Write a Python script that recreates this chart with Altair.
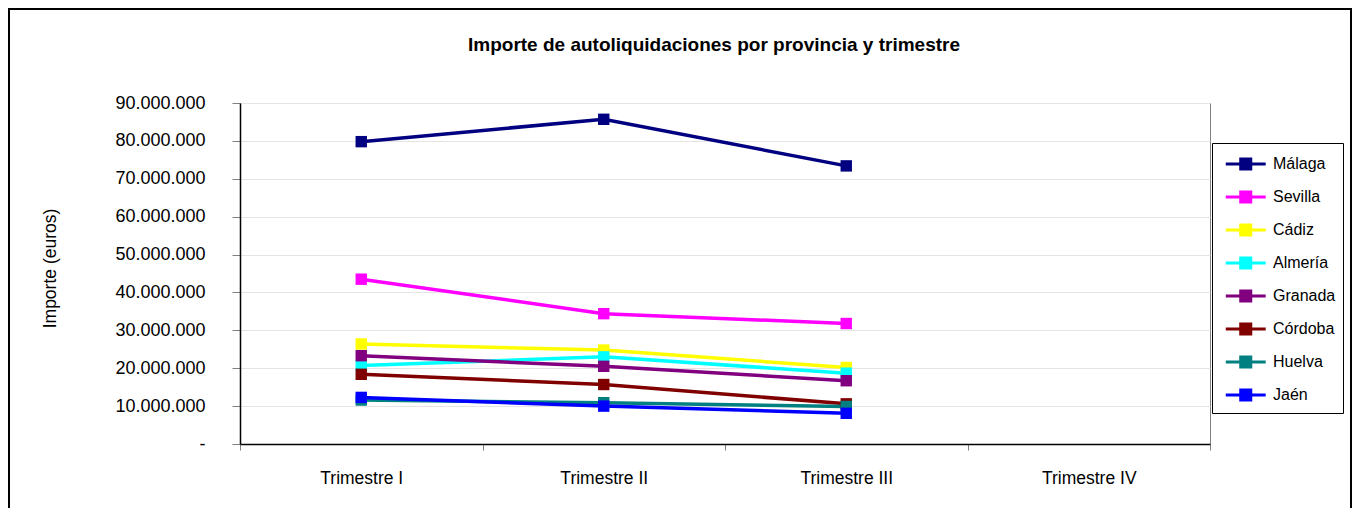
import altair as alt
import pandas as pd

trimestres = ["Trimestre I", "Trimestre II", "Trimestre III", "Trimestre IV"]
provincias = ["Málaga", "Sevilla", "Cádiz", "Almería", "Granada", "Córdoba", "Huelva", "Jaén"]
colores = ["#000080", "#FF00FF", "#FFFF00", "#00FFFF", "#800080", "#800000", "#008080", "#0000FF"]
titulo = "Importe de autoliquidaciones por provincia y trimestre"

malaga = [79800000, 85700000, 73400000]
sevilla = [43500000, 34400000, 31800000]
cadiz = [26400000, 24800000, 20200000]
almeria = [20700000, 23000000, 18700000]
granada = [23300000, 20500000, 16700000]
cordoba = [18400000, 15700000, 10600000]
huelva = [11600000, 10900000, 9900000]
jaen = [12300000, 10000000, 8100000]

series = [malaga, sevilla, cadiz, almeria, granada, cordoba, huelva, jaen]
rows = []
for prov, vals in zip(provincias, series):
    for t, v in zip(trimestres, vals):
        rows.append({"trimestre": t, "provincia": prov, "importe": v})
df = pd.DataFrame(rows)

FONT = "Liberation Sans, Arial, sans-serif"
W, H = 970, 341

legend_path = ("M-0.59,0H2.67"
               "M0.63,-0.4H1.45V0.4H0.63Z"
               "M0.8,-0.24H1.28V0.24H0.8Z"
               "M0.96,-0.08H1.12V0.08H0.96Z")

x_enc = alt.X(
    "trimestre:N",
    bandPosition=0.5,
    scale=alt.Scale(type="band", domain=trimestres, paddingInner=0, paddingOuter=0),
    axis=alt.Axis(title=None, tickBand="extent", labelAngle=0, labelFont=FONT,
                  labelFontSize=17.5, labelColor="black", labelPadding=19, tickSize=6,
                  tickColor="#808080", domainColor="black", domainWidth=1.5, grid=False),
)
y_enc = alt.Y(
    "importe:Q",
    scale=alt.Scale(domain=[0, 90000000], nice=False),
    axis=alt.Axis(title="Importe (euros)", values=[i * 10000000 for i in range(10)],
                  labelExpr="datum.value == 0 ? '-\u00a0\u00a0' : replace(format(datum.value, ',d'), /,/g, '.')",
                  labelFont=FONT, labelFontSize=18, labelColor="black", labelPadding=27,
                  tickSize=8, tickColor="#808080", domainColor="black", domainWidth=1.5,
                  gridColor="#e4e4e4", titleFont=FONT, titleFontSize=17.5, titleFontWeight="normal",
                  titleColor="black", titleAngle=270, titleX=-190, titleY=165,
                  titleAlign="center", titleBaseline="middle"),
)
color_enc = alt.Color(
    "provincia:N",
    sort=provincias,
    scale=alt.Scale(domain=provincias, range=colores),
    legend=alt.Legend(title=None, orient="none", legendX=972, legendY=40,
                      symbolType=legend_path, symbolSize=600, symbolStrokeWidth=3,
                      symbolOpacity=1, labelFont=FONT, labelFontSize=16, labelColor="black",
                      labelOffset=26, rowPadding=8, padding=7, strokeColor="black",
                      fillColor="white"),
)

base = alt.Chart(df).encode(x=x_enc, y=y_enc, color=color_enc)
lines = base.mark_line(strokeWidth=3.5)
points = base.mark_point(shape="square", filled=True, size=130, opacity=1)

border = alt.Chart(pd.DataFrame({"a": [0]})).mark_rect(
    fill="transparent", stroke="black", strokeWidth=2
).encode(x=alt.value(-231), x2=alt.value(1111), y=alt.value(-94), y2=alt.value(430))

title_txt = alt.Chart(pd.DataFrame({"t": [titulo]})).mark_text(
    font=FONT, fontSize=19, fontWeight="bold", color="black", align="center",
    baseline="alphabetic"
).encode(x=alt.value(474), y=alt.value(-52), text="t:N")

chart = alt.layer(lines, points, border, title_txt).properties(
    width=W, height=H,
    padding={"left": 232, "top": 95, "right": 142, "bottom": 64},
    autosize=alt.AutoSizeParams(type="none"),
).configure_view(stroke="#808080", strokeWidth=1)

chart.save("out.html", embed_options={"renderer": "svg", "actions": False})
